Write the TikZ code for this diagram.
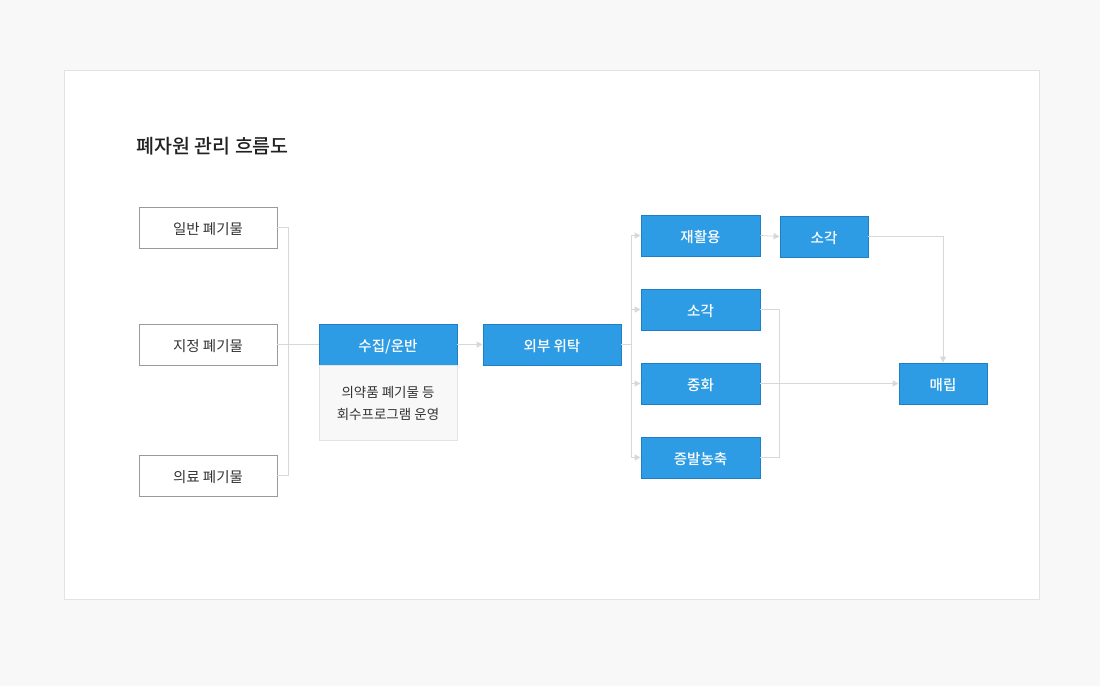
\documentclass[tikz,border=0pt]{standalone}
\usepackage{fontspec}
\setmainfont{Noto Sans CJK KR}
\newfontfamily\krmed{Noto Sans CJK KR Medium}
\usetikzlibrary{arrows.meta}
\definecolor{bg}{HTML}{F8F8F8}
\definecolor{cardline}{HTML}{E3E3E3}
\definecolor{blu}{HTML}{2D9CE4}
\definecolor{bluedge}{HTML}{1F7FC6}
\definecolor{greyedge}{HTML}{9A9A9A}
\definecolor{conn}{HTML}{D8D8D8}
\definecolor{txt}{HTML}{333333}
\begin{document}
\begin{tikzpicture}[x=1pt,y=-1pt,
  boxtext/.style={text height=13pt,text depth=0pt},
  srcbox/.style={draw=greyedge,fill=white,line width=0.8pt,minimum width=138pt,minimum height=41pt,inner sep=0pt,text=txt,boxtext,font=\fontsize{14.5}{17}\selectfont},
  bluebox/.style={draw=bluedge,fill=blu,line width=0.8pt,minimum height=41pt,inner sep=0pt,text=white,boxtext,font=\fontsize{14.5}{17}\selectfont\krmed},
  notebox/.style={draw=cardline,fill=bg,line width=0.8pt,minimum width=138pt,minimum height=75pt,inner sep=0pt,text=txt,align=center,font=\fontsize{13.5}{22}\selectfont},
  link/.style={draw=conn,line width=0.8pt},
  arr/.style={link,-{Triangle[length=6pt,width=6pt]}}
]
\useasboundingbox (0,0) rectangle (1100,686);
\fill[bg] (0,0) rectangle (1100,686);
\draw[cardline,fill=white,line width=0.8pt] (64.5,70.5) rectangle (1039.5,599.5);
\node[anchor=west,text=black!87,font=\fontsize{19.5}{24}\selectfont\krmed] (title) at (133,146) {폐자원 관리 흐름도};

% source boxes
\node[srcbox] (s1) at (208,227.5) {일반 폐기물};
\node[srcbox] (s2) at (208,344.5) {지정 폐기물};
\node[srcbox] (s3) at (208,475.5) {의료 폐기물};

% collection
\node[bluebox,minimum width=138pt] (col) at (388,344.5) {수집/운반};
\node[notebox,anchor=north] (note) at (col.south) {의약품 폐기물 등\\회수프로그램 운영};
\node[bluebox,minimum width=138pt] (ext) at (552,344.5) {외부 위탁};

% treatments
\node[bluebox,minimum width=119pt] (t1) at (700.5,235.5) {재활용};
\node[bluebox,minimum width=119pt] (t2) at (700.5,309.5) {소각};
\node[bluebox,minimum width=119pt] (t3) at (700.5,383.5) {중화};
\node[bluebox,minimum width=119pt] (t4) at (700.5,457.5) {증발농축};
\node[bluebox,minimum width=88pt] (inc) at (824,236.5) {소각};
\node[bluebox,minimum width=88pt] (land) at (943,383.5) {매립};

% junction coordinates
\coordinate (j1) at (288,344.5);
\coordinate (j2) at (631,344.5);
\coordinate (j3) at (779,383.5);

% sources -> collection
\draw[link] (s1.east) -| (j1);
\draw[link] (s3.east) -| (j1);
\draw[link] (s2.east) -- (col.west);

\draw[arr] (col.east) -- (ext.west);

% external -> treatments
\draw[link] (ext.east) -- (j2);
\draw[arr] (j2) |- (t1.west);
\draw[arr] (j2) |- (t2.west);
\draw[arr] (j2) |- (t3.west);
\draw[arr] (j2) |- (t4.west);

\draw[arr] (t1.east) -- (inc.west);
\draw[arr] (inc.east) -| (land.north);

\draw[link] (t2.east) -| (j3);
\draw[link] (t4.east) -| (j3);
\draw[arr] (t3.east) -- (land.west);
\end{tikzpicture}
\end{document}
